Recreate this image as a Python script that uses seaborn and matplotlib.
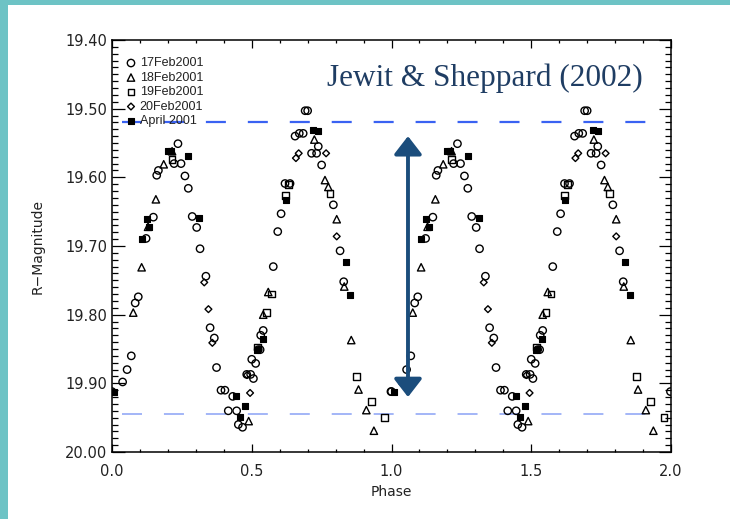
import matplotlib
matplotlib.use('Agg')
import matplotlib.pyplot as plt
import seaborn as sns
import pandas as pd
from matplotlib.patches import Rectangle
from matplotlib.ticker import MultipleLocator, FormatStrFormatter

sns.set_theme(style='white')
plt.rcParams['font.family'] = ['DejaVu Sans']
plt.rcParams['lines.scale_dashes'] = False

# ---------------- data (one rotational cycle, plotted twice) ----------------
feb17_phase = [0.000, 0.038, 0.054, 0.069, 0.083, 0.094, 0.122, 0.148, 0.160, 0.166,
               0.222, 0.236, 0.247, 0.261, 0.273, 0.287, 0.303, 0.315, 0.336, 0.351,
               0.366, 0.374, 0.390, 0.404, 0.416, 0.432, 0.446, 0.452, 0.467, 0.482,
               0.496, 0.500, 0.506, 0.514, 0.523, 0.530, 0.532, 0.541, 0.577, 0.593,
               0.605, 0.619, 0.637, 0.655, 0.670, 0.684, 0.691, 0.700, 0.714, 0.732,
               0.738, 0.750, 0.792, 0.816, 0.829, 0.998]
feb17_mag = [19.912, 19.898, 19.880, 19.860, 19.783, 19.774, 19.689, 19.658, 19.597, 19.590,
             19.580, 19.551, 19.580, 19.598, 19.616, 19.657, 19.673, 19.704, 19.744, 19.819,
             19.834, 19.877, 19.910, 19.910, 19.940, 19.919, 19.940, 19.960, 19.964, 19.887,
             19.887, 19.865, 19.893, 19.871, 19.851, 19.851, 19.830, 19.823, 19.730, 19.679,
             19.653, 19.609, 19.609, 19.540, 19.536, 19.536, 19.503, 19.503, 19.565, 19.565,
             19.555, 19.582, 19.640, 19.707, 19.752, 19.912]

feb18_phase = [0.076, 0.106, 0.129, 0.157, 0.185, 0.215, 0.489, 0.541, 0.559, 0.724,
               0.762, 0.774, 0.804, 0.831, 0.856, 0.882, 0.910, 0.937]
feb18_mag = [19.797, 19.731, 19.672, 19.632, 19.581, 19.562, 19.955, 19.800, 19.767, 19.545,
             19.604, 19.614, 19.661, 19.759, 19.837, 19.909, 19.939, 19.969]

feb19_phase = [0.215, 0.520, 0.553, 0.571, 0.620, 0.631, 0.780, 0.876, 0.928, 0.975]
feb19_mag = [19.574, 19.847, 19.797, 19.770, 19.626, 19.610, 19.624, 19.890, 19.927, 19.950]

feb20_phase = [0.330, 0.345, 0.359, 0.494, 0.483, 0.658, 0.668, 0.766, 0.804]
feb20_mag = [19.753, 19.792, 19.841, 19.914, 19.888, 19.572, 19.565, 19.565, 19.686]

apr_phase = [0.008, 0.106, 0.124, 0.133, 0.200, 0.211, 0.273, 0.312, 0.444, 0.458,
             0.476, 0.518, 0.539, 0.622, 0.720, 0.738, 0.836, 0.852]
apr_mag = [19.913, 19.690, 19.661, 19.672, 19.562, 19.561, 19.569, 19.659, 19.918, 19.949,
           19.933, 19.851, 19.835, 19.633, 19.531, 19.533, 19.723, 19.771]

series_labels = ['17Feb2001', '18Feb2001', '19Feb2001', '20Feb2001', 'April 2001']
cycles = [0, 1]

ref_bright = 19.52
ref_faint = 19.945
arrow_phase = 1.059
arrow_top = 19.540
arrow_bottom = 19.920

title_text = 'Jewit & Sheppard (2002)'
x_ticks = [0.0, 0.5, 1.0, 1.5, 2.0]
y_ticks = [19.40, 19.50, 19.60, 19.70, 19.80, 19.90, 20.00]

# ---------------- build table ----------------
raw = [(series_labels[0], feb17_phase, feb17_mag),
       (series_labels[1], feb18_phase, feb18_mag),
       (series_labels[2], feb19_phase, feb19_mag),
       (series_labels[3], feb20_phase, feb20_mag),
       (series_labels[4], apr_phase, apr_mag)]
rows = []
for name, ph, mg in raw:
    for c in cycles:
        for p, m in zip(ph, mg):
            rows.append({'date': name, 'phase': p + c, 'mag': m})
df = pd.DataFrame(rows)

styles = {
    '17Feb2001': dict(marker='o', s=28, facecolor='none', edgecolor='black', linewidth=1.0),
    '18Feb2001': dict(marker='^', s=28, facecolor='none', edgecolor='black', linewidth=1.0),
    '19Feb2001': dict(marker='s', s=24, facecolor='none', edgecolor='black', linewidth=1.0),
    '20Feb2001': dict(marker='D', s=12, facecolor='none', edgecolor='black', linewidth=1.0),
    'April 2001': dict(marker='s', s=16, facecolor='black', edgecolor='black', linewidth=0.8),
}

# ---------------- figure ----------------
fig = plt.figure(figsize=(7.3, 5.19), dpi=100)
fig.patch.set_facecolor('white')
teal = '#6dc3c5'
fig.patches.append(Rectangle((0, 1 - 5 / 519), 1, 5 / 519, transform=fig.transFigure,
                             facecolor=teal, edgecolor='none', zorder=-10))
fig.patches.append(Rectangle((0, 0), 8 / 730, 1, transform=fig.transFigure,
                             facecolor=teal, edgecolor='none', zorder=-10))

ax = fig.add_axes([112 / 730, 1 - 452 / 519, 559 / 730, 412 / 519])
ax.set_facecolor('white')

# reference lines
ax.plot([0.036, 1.911], [ref_bright, ref_bright], color='#3a62f2', lw=1.6,
        dashes=(14.4, 15.8), zorder=1)
ax.plot([0.036, 1.911], [ref_faint, ref_faint], color='#8aa2f5', lw=1.1,
        dashes=(14.4, 15.8), zorder=1)

for name in series_labels:
    sub = df[df['date'] == name]
    sns.scatterplot(data=sub, x='phase', y='mag', ax=ax, label=name, zorder=3,
                    **styles[name])

ax.annotate('', xy=(arrow_phase, arrow_top), xytext=(arrow_phase, arrow_bottom),
            arrowprops=dict(arrowstyle='<|-|>,head_length=1.1,head_width=0.85',
                            mutation_scale=10, lw=2.8, color='#1b4d7c',
                            shrinkA=0, shrinkB=0), zorder=4)

ax.set_xlim(0, 2)
ax.set_ylim(20.0, 19.4)
ax.set_xticks(x_ticks)
ax.set_yticks(y_ticks)
ax.xaxis.set_minor_locator(MultipleLocator(0.1))
ax.yaxis.set_minor_locator(MultipleLocator(0.01))
ax.xaxis.set_major_formatter(FormatStrFormatter('%.1f'))
ax.yaxis.set_major_formatter(FormatStrFormatter('%.2f'))

ax.tick_params(which='both', direction='in', top=True, right=True, bottom=True, left=True,
               color='black', width=0.9, labelcolor='#222222', labelsize=10.5)
ax.tick_params(axis='x', which='major', length=6, pad=9)
ax.tick_params(axis='x', which='minor', length=2.5)
ax.tick_params(axis='y', which='major', length=9, pad=3.5)
ax.tick_params(axis='y', which='minor', length=4)

for sp in ax.spines.values():
    sp.set_color('black')
    sp.set_linewidth(1.1)

ax.set_xlabel('Phase', fontsize=10, color='#222222', labelpad=4)
ax.set_ylabel('R\u2212Magnitude', fontsize=10, color='#222222')
ax.yaxis.set_label_coords(-0.12, 0.5)

leg = ax.legend(loc='upper left', bbox_to_anchor=(0.025, 0.958), frameon=False,
                handlelength=0.8, handletextpad=0.3, borderpad=0, borderaxespad=0,
                labelspacing=0.2, prop={'family': 'Liberation Sans', 'size': 9})
for t in leg.get_texts():
    t.set_color('#222222')

fig.text(643 / 730, 1 - 86 / 519, title_text, ha='right', va='baseline',
         fontsize=22.5, family='Liberation Serif', color='#1f3d63')

fig.savefig('out.png', dpi=100, facecolor=fig.get_facecolor())
